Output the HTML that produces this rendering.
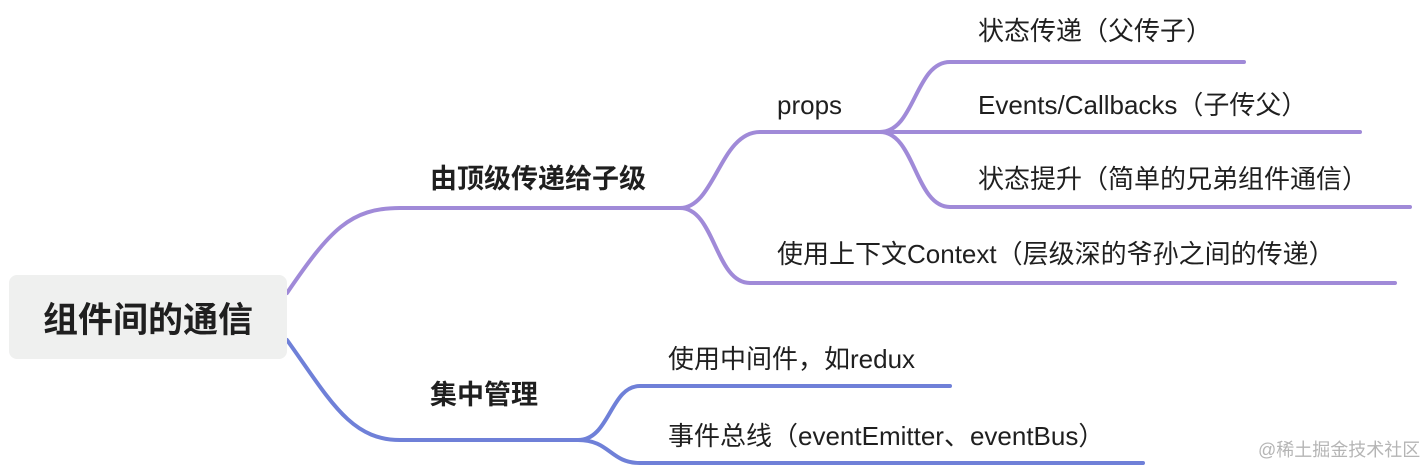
<!DOCTYPE html>
<html><head><meta charset="utf-8"><style>
body{margin:0;width:1422px;height:469px;background:#fff;position:relative;overflow:hidden;font-family:"Liberation Sans","Noto Sans CJK SC",sans-serif;color:#1f1f1f}
.t{position:absolute;white-space:nowrap;font-size:26px;line-height:1}
.b{font-weight:bold;font-size:27px}
#root{position:absolute;left:9px;top:275px;width:278px;height:84px;background:#eff0ef;border-radius:8px;font-size:35px;font-weight:bold;display:flex;align-items:center;justify-content:center}
</style></head><body>
<svg width="1422" height="469" style="position:absolute;left:0;top:0" fill="none" stroke-linecap="round">
<g stroke="#a08ad8" stroke-width="4">
<path d="M287,293 C330,230 350,208 400,208 L680,208"/>
<path d="M680,208 C715,208 720,132 760,132 L880,132"/>
<path d="M880,132 C915,132 915,62 950,62 L1244,62"/>
<path d="M880,132 L1360,132"/>
<path d="M880,132 C915,132 915,207 950,207 L1410,207"/>
<path d="M680,208 C715,208 715,283 750,283 L1395,283"/>
</g>
<g stroke="#6f80d8" stroke-width="4">
<path d="M287,340 C330,400 350,440 400,440 L578,440"/>
<path d="M578,440 C610,440 610,386 640,386 L950,386"/>
<path d="M578,440 C610,440 610,463 640,463 L1143,463"/>
</g>
</svg>
<div id="root">组件间的通信</div>
<div class="t b" style="left:430px;top:166px">由顶级传递给子级</div>
<div class="t b" style="left:430px;top:382px">集中管理</div>
<div class="t" style="left:777px;top:92px">props</div>
<div class="t" style="left:978px;top:18px">状态传递（父传子）</div>
<div class="t" style="left:978px;top:92px">Events/Callbacks（子传父）</div>
<div class="t" style="left:978px;top:166px">状态提升（简单的兄弟组件通信）</div>
<div class="t" style="left:777px;top:241px">使用上下文Context（层级深的爷孙之间的传递）</div>
<div class="t" style="left:668px;top:346px">使用中间件，如redux</div>
<div class="t" style="left:668px;top:423px">事件总线（eventEmitter、eventBus）</div>
<div class="t" style="left:1258px;top:441px;font-size:18px;color:#b5b5b5">@稀土掘金技术社区</div>
</body></html>
